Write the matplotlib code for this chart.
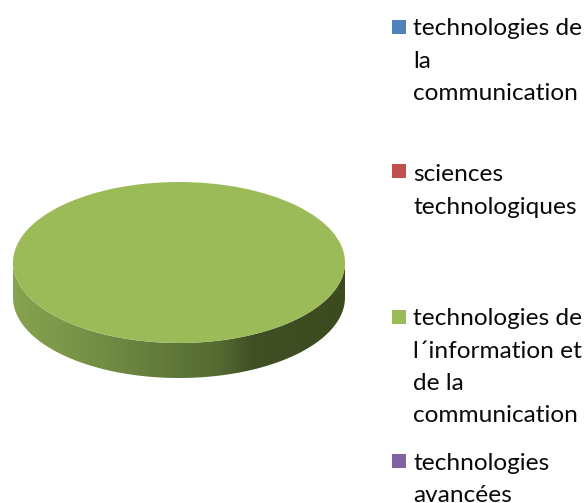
import numpy as np
import matplotlib
matplotlib.use('Agg')
import matplotlib.pyplot as plt
from matplotlib.colors import LinearSegmentedColormap
from matplotlib.patches import Polygon

plt.rcParams['font.family'] = ['Lato', 'DejaVu Sans']

labels = ['technologies de\nla\ncommunication',
          'sciences\ntechnologiques',
          'technologies de\nl´information et\nde la\ncommunication',
          'technologies\navancées']
values = [0, 0, 100, 0]
colors = ['#4f81bd', '#c0504d', '#9bbb59', '#8064a2']

W, H = 588, 503
fig = plt.figure(figsize=(W / 100, H / 100), dpi=100)

# pie axes, pixel box of the disc and its rim
left, right, top, bottom, rim_bottom = 13, 345, 182, 343, 378
ax = fig.add_axes([left / W, 1 - rim_bottom / H, (right - left) / W, (rim_bottom - top) / H])
depth = (rim_bottom - bottom) / ((bottom - top) / 2)

# rim first, with the shading from left to right
t = np.linspace(np.pi, 2 * np.pi, 200)
rim = np.vstack([np.column_stack([np.cos(t), np.sin(t) - depth]),
                 np.column_stack([np.cos(t[::-1]), np.sin(t[::-1])])])
shade = LinearSegmentedColormap.from_list('rim', [(0, '#86a34f'), (0.25, '#748f45'), (0.45, '#627a3b'),
                                                  (0.62, '#556b31'), (0.72, '#414f24'), (1, '#3d4a20')])
img = ax.imshow(np.linspace(0, 1, 256).reshape(1, -1), cmap=shade, aspect='auto',
                extent=(-1, 1, -1 - depth, 1), zorder=1)
clip = Polygon(rim, closed=True, transform=ax.transData, fc='none', ec='none')
ax.add_patch(clip)
img.set_clip_path(clip)

ax.pie(values, colors=colors, startangle=90, radius=1, wedgeprops={'zorder': 2, 'linewidth': 0})
ax.set_aspect('auto')
ax.set_xlim(-1, 1)
ax.set_ylim(-1 - depth, 1)
ax.axis('off')

# legend, entries are evenly spaced with wrapped text
first_baseline = [35, 181, 325, 470]
swatch_top = [20, 164, 310, 454]
line_gap = 32.5
leg = fig.add_axes([0, 0, 1, 1], facecolor='none')
leg.set_xlim(0, W)
leg.set_ylim(H, 0)
leg.axis('off')
for label, color, y0, sy in zip(labels, colors, first_baseline, swatch_top):
    leg.add_patch(plt.Rectangle((392, sy), 14, 14, fc=color, ec='none'))
    for i, line in enumerate(label.split('\n')):
        leg.text(413, y0 + i * line_gap, line, fontsize=17.6, color='#0a0a0a', va='baseline', ha='left')

fig.savefig('out.png', dpi=100)
